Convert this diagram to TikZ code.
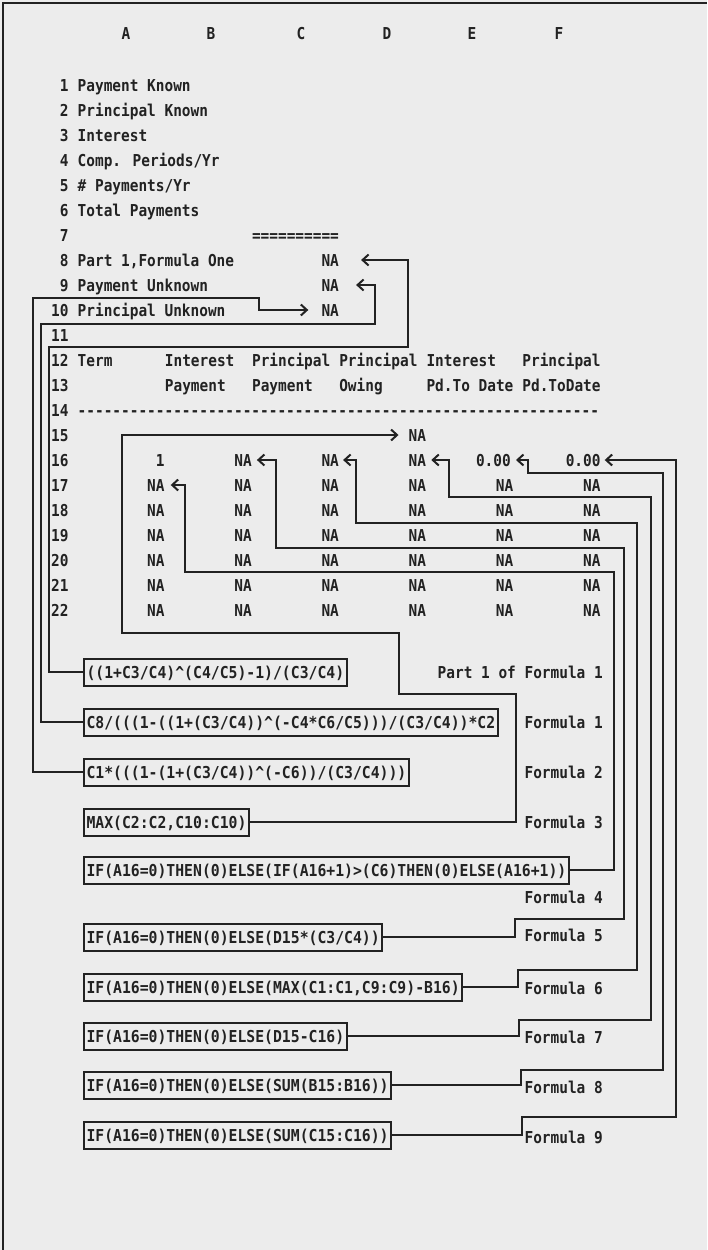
\documentclass[tikz,border=0pt]{standalone}
\usepackage{fontspec}
\usetikzlibrary{arrows.meta}
\newfontfamily\sheetfont[FakeStretch=0.88]{DejaVu Sans Mono}
\newfontfamily\formfont[FakeStretch=0.90]{DejaVu Sans Mono}
\definecolor{paper}{RGB}{236,236,236}
\definecolor{ink}{RGB}{34,34,34}
\newcommand\dashrow{\count255=0 \loop -\kern0pt\advance\count255 by 1 \ifnum\count255<60 \repeat}
\begin{document}
\begin{tikzpicture}[x=1pt,y=-1pt,
  txt/.style={inner sep=0pt, text height=12pt, text depth=0pt, text=ink,
    font=\sheetfont\bfseries\fontsize{16.4pt}{18pt}\selectfont},
  lab/.style={txt, anchor=west},
  num/.style={txt, anchor=east},
  val/.style={txt, anchor=east},
  fbox/.style={draw=ink, line width=2pt, inner xsep=2.5pt, inner ysep=7.5pt,
    text height=12pt, text depth=0pt, anchor=west, text=ink,
    font=\formfont\bfseries\fontsize{16.4pt}{18pt}\selectfont},
  flab/.style={txt, anchor=east},
  conn/.style={draw=ink, line width=2pt},
  arr/.style={conn, -{Straight Barb[length=6pt,width=11pt]}}]
\useasboundingbox (0,0) rectangle (707,1250);
\fill[paper] (0,0) rectangle (707,1250);
\draw[ink, line width=2.5pt] (3,1250) -- (3,3) -- (707,3);
% column headers
\node[txt] (hA) at (126,33) {A};
\node[txt] (hB) at (211,33) {B};
\node[txt] (hC) at (301,33) {C};
\node[txt] (hD) at (387,33) {D};
\node[txt] (hE) at (472,33) {E};
\node[txt] (hF) at (559,33) {F};
% row numbers
\foreach \n in {1,...,22} \node[num] (rn\n) at (68.8,{85+25*(\n-1)}) {\n};
% labels
\node[lab] (l1) at (77.5,85) {Payment Known};
\node[lab] (l2) at (77.5,110) {Principal Known};
\node[lab] (l3) at (77.5,135) {Interest};
\node[lab] (l4) at (77.5,160) {Comp. Periods/Yr};
\node[lab] (l5) at (77.5,185) {\# Payments/Yr};
\node[lab] (l6) at (77.5,210) {Total Payments};
\node[val] (c7) at (339.1,235) {==========};
\node[lab] (l8) at (77.5,260) {Part 1,Formula One};
\node[lab] (l9) at (77.5,285) {Payment Unknown};
\node[lab] (l10) at (77.5,310) {Principal Unknown};
\node[val] (c8) at (339.1,260) {NA};
\node[val] (c9) at (339.1,285) {NA};
\node[val] (c10) at (339.1,310) {NA};
% table header
\node[lab] (h12a) at (77.5,360) {Term};
\node[lab] (h12b) at (164.7,360) {Interest};
\node[lab] (h12c) at (251.9,360) {Principal};
\node[lab] (h12d) at (339.1,360) {Principal};
\node[lab] (h12e) at (426.3,360) {Interest};
\node[lab] (h12f) at (522.2,360) {Principal};
\node[lab] (h13b) at (164.7,385) {Payment};
\node[lab] (h13c) at (251.9,385) {Payment};
\node[lab] (h13d) at (339.1,385) {Owing};
\node[lab] (h13e) at (426.3,385) {Pd.To Date};
\node[lab] (h13f) at (522.2,385) {Pd.ToDate};
\node[lab] (h14) at (77.5,410) {\dashrow};
% values
\node[val] (d15) at (426.3,435) {NA};
\node[val] (a16) at (164.7,460) {1};
\node[val] (b16) at (251.9,460) {NA};
\node[val] (c16) at (339.1,460) {NA};
\node[val] (d16) at (426.3,460) {NA};
\node[val] (e16) at (511,460) {0.00};
\node[val] (f16) at (600.7,460) {0.00};
\foreach \r in {17,...,22}
  \foreach \c/\xx in {a/164.7,b/251.9,c/339.1,d/426.3,e/513.5,f/600.7}
    \node[val] (\c\r) at (\xx,{85+25*(\r-1)}) {NA};
% formula boxes
\node[fbox] (fmp) at (83,672) {((1+C3/C4)\textasciicircum(C4/C5)-1)/(C3/C4)};
\node[fbox] (fm1) at (83,722) {C8/(((1-((1+(C3/C4))\textasciicircum(-C4*C6/C5)))/(C3/C4))*C2};
\node[fbox] (fm2) at (83,772) {C1*(((1-(1+(C3/C4))\textasciicircum(-C6))/(C3/C4)))};
\node[fbox] (fm3) at (83,822) {MAX(C2:C2,C10:C10)};
\node[fbox] (fm4) at (83,870) {IF(A16=0)THEN(0)ELSE(IF(A16+1)>(C6)THEN(0)ELSE(A16+1))};
\node[fbox] (fm5) at (83,937) {IF(A16=0)THEN(0)ELSE(D15*(C3/C4))};
\node[fbox] (fm6) at (83,987) {IF(A16=0)THEN(0)ELSE(MAX(C1:C1,C9:C9)-B16)};
\node[fbox] (fm7) at (83,1036) {IF(A16=0)THEN(0)ELSE(D15-C16)};
\node[fbox] (fm8) at (83,1085) {IF(A16=0)THEN(0)ELSE(SUM(B15:B16))};
\node[fbox] (fm9) at (83,1135) {IF(A16=0)THEN(0)ELSE(SUM(C15:C16))};
% formula labels
\node[flab] (lfp) at (603,672) {Part 1 of Formula 1};
\node[flab] (lf1) at (603,722) {Formula 1};
\node[flab] (lf2) at (603,772) {Formula 2};
\node[flab] (lf3) at (603,822) {Formula 3};
\node[flab] (lf4) at (603,897) {Formula 4};
\node[flab] (lf5) at (603,935) {Formula 5};
\node[flab] (lf6) at (603,988) {Formula 6};
\node[flab] (lf7) at (603,1037) {Formula 7};
\node[flab] (lf8) at (603,1087) {Formula 8};
\node[flab] (lf9) at (603,1137) {Formula 9};
% connectors
\draw[arr] (fmp.west) -| (49,347) -| (408,260) -- ([xshift=22pt]c8.east);
\draw[arr] (fm1.west) -| (41,324) -| (375,285) -- ([xshift=17pt]c9.east);
\draw[arr] (fm2.west) -| (33,298) -| (259,310) -- ([xshift=-13pt]c10.west);
\draw[arr] (fm3.east) -| (516,694) -| (399,633) -| (122,435) -- ([xshift=-10pt]d15.west);
\draw[arr] (fm4.east) -| (614,572) -| (185,485) -- ([xshift=6pt]a17.east);
\draw[arr] (fm5.east) -| (515,919) -| (624,548) -| (276,460) -- ([xshift=5pt]b16.east);
\draw[arr] (fm6.east) -| (518,970) -| (637,523) -| (356,460) -- ([xshift=4pt]c16.east);
\draw[arr] (fm7.east) -| (519,1020) -| (651,497) -| (449,460) -- ([xshift=5pt]d16.east);
\draw[arr] (fm8.east) -| (521,1070) -| (663,473) -| (528,460) -- ([xshift=5pt]e16.east);
\draw[arr] (fm9.east) -| (522,1117) -| (676,460) -- ([xshift=4pt]f16.east);
\end{tikzpicture}
\end{document}
